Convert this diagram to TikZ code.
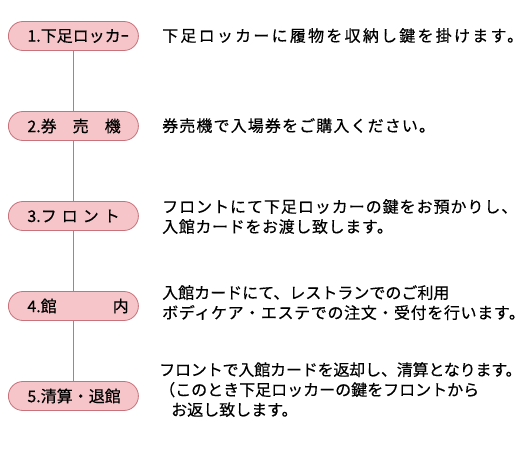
\documentclass[tikz,border=0pt]{standalone}
\usepackage{fontspec}
\newfontfamily\jp[FakeBold=0.4]{Noto Sans CJK JP}
\definecolor{boxfill}{HTML}{F5C5C9}
\definecolor{boxline}{HTML}{C8737B}
\newcommand{\ls}[2]{{\addfontfeature{LetterSpace=#1}#2}}
\begin{document}
\begin{tikzpicture}[x=1pt,y=-1pt,
  stepbox/.style={draw=boxline,fill=boxfill,line width=0.8pt,rounded corners=14.5pt,
    minimum height=29pt,text width=92pt,inner xsep=19pt,inner ysep=0pt,align=left,
    font=\jp\fontsize{16}{18}\selectfont,anchor=west},
  desc/.style={anchor=north west,align=left,inner sep=0pt,font=\jp\fontsize{16}{20}\selectfont},
  conn/.style={draw=boxline,line width=0.8pt}]
\useasboundingbox (0,0) rectangle (528,472);
\node[stepbox] (b1) at (8,36) {\mbox{1.下足ロッカｰ}};
\node[stepbox] (b2) at (8,126) {\mbox{2.券\hspace{16pt}売\hspace{16pt}機}};
\node[stepbox] (b3) at (8,216) {\mbox{3.フ\hspace{5pt}ロ\hspace{5pt}ン\hspace{5pt}ト}};
\node[stepbox] (b4) at (8,306) {\mbox{4.館\hspace{56pt}内}};
\node[stepbox] (b5) at (8,396) {\mbox{5.清算・退館}};
\draw[conn] (b1.south -| 73,0) -- (b2.north -| 73,0);
\draw[conn] (b2.south -| 73,0) -- (b3.north -| 73,0);
\draw[conn] (b3.south -| 73,0) -- (b4.north -| 73,0);
\draw[conn] (b4.south -| 73,0) -- (b5.north -| 73,0);
\node[desc] (t1) at (162,28) {\ls{14}{下足ロッカーに履物を収納し鍵を掛けます。}};
\node[desc] (t2) at (162,118) {\ls{7}{券売機で入場券をご購入ください。}};
\node[desc] (t3) at (162,199) {\ls{6}{フロントにて下足ロッカーの鍵をお預かりし、}\\\ls{4}{入館カードをお渡し致します。}};
\node[desc] (t4) at (162,285) {入館カードにて、レストランでのご利用\\\ls{4}{ボディケア・エステでの注文・受付を行います。}};
\node[desc] (t5) at (159,362) {\ls{-1}{フロントで入館カードを返却し、清算となります。}\\（このとき下足ロッカーの鍵をフロントから\\\hspace{12pt}お返し致します。};
\end{tikzpicture}
\end{document}
